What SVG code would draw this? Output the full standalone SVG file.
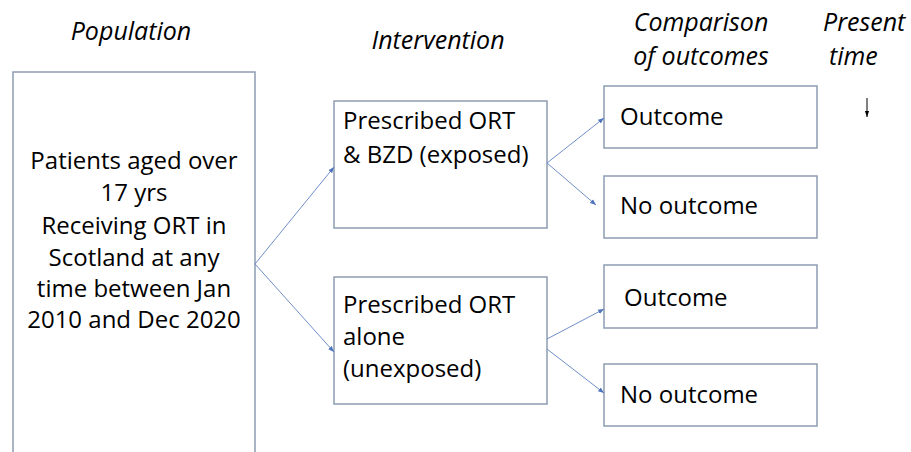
<svg xmlns="http://www.w3.org/2000/svg" width="911" height="452" viewBox="0 0 911 452">
<style>
.box{fill:#fff;stroke:#8d9cb2;stroke-width:1.5}
.t{font-family:"Open Sans","Liberation Sans",sans-serif;font-size:24px;fill:#000}
.h{font-family:"Open Sans","Liberation Sans",sans-serif;font-size:25px;font-style:italic;fill:#000}
.c{fill:none;stroke:#6f8fc8;stroke-width:1}
</style>
<defs>
<marker id="a" viewBox="0 0 10 10" refX="10" refY="5" markerWidth="6" markerHeight="6" orient="auto" markerUnits="userSpaceOnUse"><path d="M0,1 L10,5 L0,9 z" fill="#4f74bd"/></marker>
<marker id="k" viewBox="0 0 10 10" refX="10" refY="5" markerWidth="6" markerHeight="6" orient="auto" markerUnits="userSpaceOnUse"><path d="M0,1.5 L10,5 L0,8.5 z" fill="#000"/></marker>
</defs>
<rect width="911" height="452" fill="#fff"/>
<g id="headers">
<text class="h" x="131" y="40" text-anchor="middle">Population</text>
<text class="h" x="438" y="49" text-anchor="middle">Intervention</text>
<text class="h" x="701" y="31" text-anchor="middle">Comparison</text>
<text class="h" x="701" y="65" text-anchor="middle">of outcomes</text>
<text class="h" x="823" y="31">Present</text>
<text class="h" x="829" y="65">time</text>
</g>
<g id="population">
<rect class="box" x="13" y="72" width="242" height="400"/>
<text class="t" text-anchor="middle"><tspan x="134" y="169">Patients aged over</tspan><tspan x="134" y="201">17 yrs</tspan><tspan x="134" y="234">Receiving ORT in</tspan><tspan x="134" y="266">Scotland at any</tspan><tspan x="134" y="297">time between Jan</tspan><tspan x="134" y="328">2010 and Dec 2020</tspan></text>
</g>
<g id="exposed">
<rect class="box" x="334" y="101" width="213" height="127"/>
<text class="t"><tspan x="343" y="129">Prescribed ORT</tspan><tspan x="343" y="163">&amp; BZD (exposed)</tspan></text>
</g>
<g id="unexposed">
<rect class="box" x="334" y="277" width="213" height="127"/>
<text class="t"><tspan x="343" y="313">Prescribed ORT</tspan><tspan x="343" y="345">alone</tspan><tspan x="343" y="377">(unexposed)</tspan></text>
</g>
<g id="outcome1">
<rect class="box" x="604" y="86" width="213" height="62"/>
<text class="t" x="620" y="125">Outcome</text>
</g>
<g id="nooutcome1">
<rect class="box" x="604" y="176" width="213" height="62"/>
<text class="t" x="620" y="214">No outcome</text>
</g>
<g id="outcome2">
<rect class="box" x="604" y="265" width="213" height="63"/>
<text class="t" x="624" y="306">Outcome</text>
</g>
<g id="nooutcome2">
<rect class="box" x="604" y="364" width="213" height="62"/>
<text class="t" x="620" y="403">No outcome</text>
</g>
<g id="connectors">
<line class="c" x1="255" y1="264" x2="334" y2="167" marker-end="url(#a)"/>
<line class="c" x1="255" y1="264" x2="334" y2="352" marker-end="url(#a)"/>
<line class="c" x1="547" y1="163" x2="604" y2="118" marker-end="url(#a)"/>
<line class="c" x1="547" y1="163" x2="596" y2="205" marker-end="url(#a)"/>
<line class="c" x1="547" y1="339" x2="604" y2="309" marker-end="url(#a)"/>
<line class="c" x1="547" y1="349" x2="604" y2="393" marker-end="url(#a)"/>
<line x1="867" y1="98" x2="867" y2="117" stroke="#000" stroke-width="1" marker-end="url(#k)"/>
</g>
</svg>
